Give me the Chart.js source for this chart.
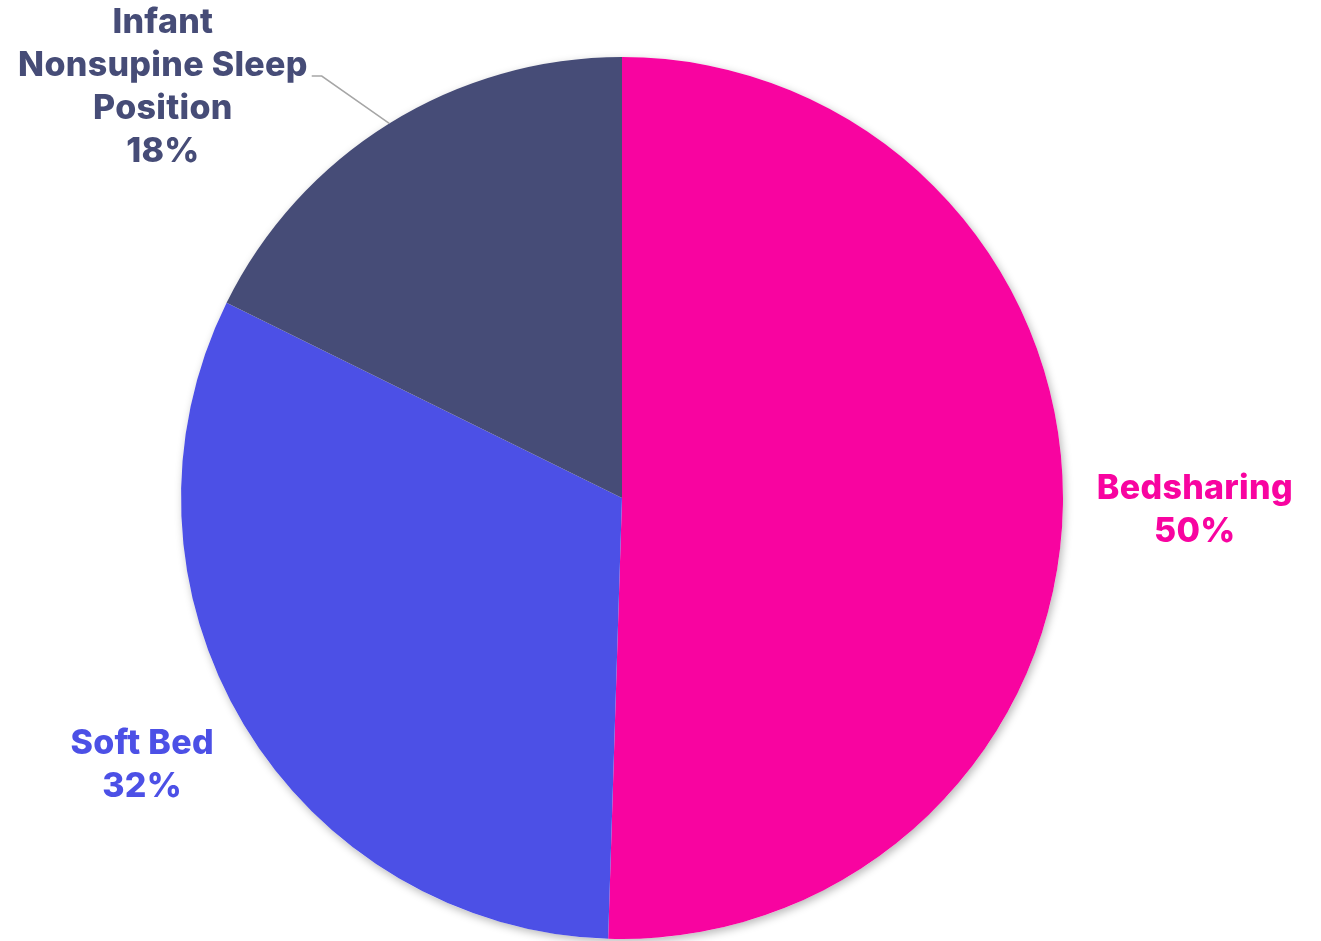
<!DOCTYPE html>
<html>
<head>
<meta charset="utf-8">
<script src="https://cdn.jsdelivr.net/npm/chart.js@4.4.0/dist/chart.umd.min.js"></script>
<style>
  html, body { margin: 0; padding: 0; background: #fff; }
  #wrap { width: 1321px; height: 941px; }
</style>
</head>
<body>
<div id="wrap"><canvas id="pieChart" width="1321" height="941"></canvas></div>
<script>
// Data
const categories = ['Bedsharing', 'Soft Bed', 'Infant Nonsupine Sleep Position'];
const values = [50.5, 31.8, 17.7];
const shownPct = ['50%', '32%', '18%'];
const colors = ['#F804A0', '#4C50E6', '#464C77'];

// label lines and where they sit, relative to the pie centre in radius units
const labelLines = [
    ['Bedsharing'],
    ['Soft Bed'],
    ['Infant', 'Nonsupine Sleep', 'Position']
];
const labelAnchor = [
    { fx: 1.299, fy: -0.022 },
    { fx: -1.088, fy: 0.558 },
    { fx: -1.041, fy: -1.077 }
];

const FONT = '800 34px Inter, "Open Sans", sans-serif';
const LINE_H = 43;

// soft shadow under the pie
const shadowPlugin = {
    id: 'pieShadow',
    beforeDatasetsDraw(chart) {
        const arc = chart.getDatasetMeta(0).data[0];
        if (!arc) return;
        const ctx = chart.ctx;
        ctx.save();
        ctx.shadowColor = 'rgba(0,0,0,0.28)';
        ctx.shadowBlur = 8;
        ctx.shadowOffsetX = 2;
        ctx.shadowOffsetY = 3;
        ctx.fillStyle = '#fff';
        ctx.beginPath();
        ctx.arc(arc.x, arc.y, arc.outerRadius, 0, Math.PI * 2);
        ctx.fill();
        ctx.restore();
    }
};

// outside labels
const labelPlugin = {
    id: 'outsideLabels',
    afterDatasetsDraw(chart) {
        const ctx = chart.ctx;
        const meta = chart.getDatasetMeta(0);
        ctx.save();
        ctx.font = FONT;
        ctx.letterSpacing = '0.3px';
        ctx.textAlign = 'center';
        ctx.textBaseline = 'middle';
        meta.data.forEach((arc, i) => {
            const r = arc.outerRadius;
            const x = arc.x + labelAnchor[i].fx * r;
            let y = arc.y + labelAnchor[i].fy * r;
            const lines = labelLines[i].concat([shownPct[i]]);
            ctx.fillStyle = colors[i];
            lines.forEach((t, k) => {
                ctx.fillText(t, x, y + k * LINE_H);
            });
            // leader line for the small slice
            if (i === 2) {
                const w = ctx.measureText(labelLines[i][1]).width;
                const lx = x + w / 2 + 4;
                const ly = y + LINE_H + 10;
                const mid = (arc.startAngle + arc.endAngle) / 2;
                const ex = arc.x + Math.cos(mid) * r;
                const ey = arc.y + Math.sin(mid) * r;
                ctx.strokeStyle = '#A6A6A6';
                ctx.lineWidth = 1.5;
                ctx.beginPath();
                ctx.moveTo(lx, ly);
                ctx.lineTo(lx + 10, ly);
                ctx.lineTo(ex, ey);
                ctx.stroke();
            }
        });
        ctx.restore();
    }
};

new Chart(document.getElementById('pieChart'), {
    type: 'pie',
    data: {
        labels: categories,
        datasets: [{
            data: values,
            backgroundColor: colors,
            borderWidth: 0
        }]
    },
    options: {
        responsive: false,
        animation: false,
        layout: {
            padding: { left: 181, right: 258, top: 57, bottom: 2 }
        },
        plugins: {
            legend: { display: false },
            tooltip: { enabled: false }
        }
    },
    plugins: [shadowPlugin, labelPlugin]
});
</script>
</body>
</html>
